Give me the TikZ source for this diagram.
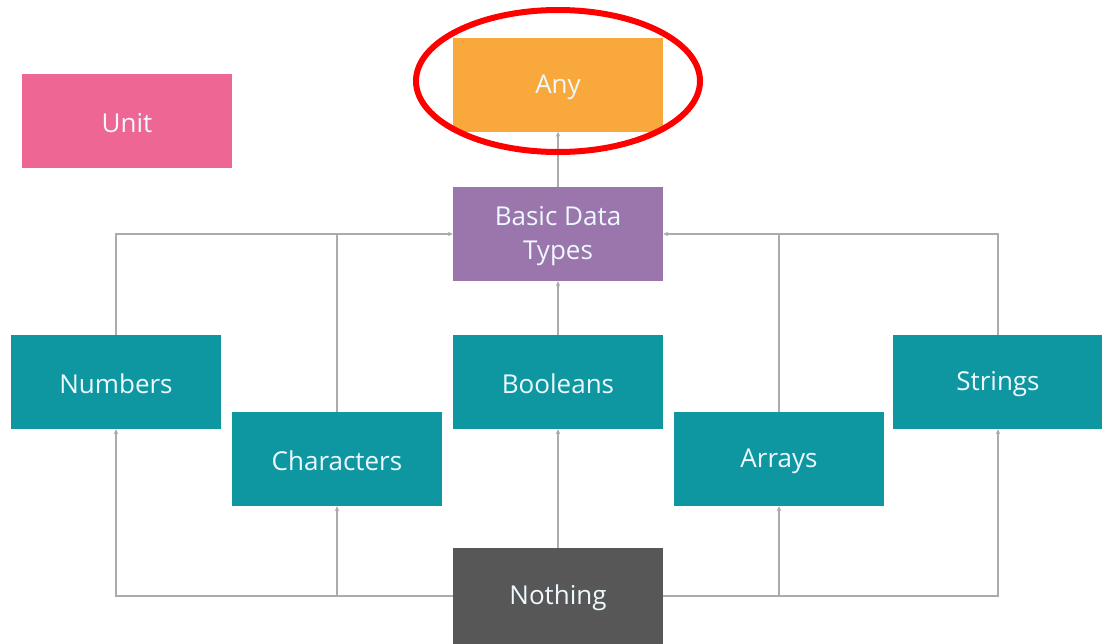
\documentclass[tikz,border=0pt]{standalone}
\usepackage{fontspec}
\setmainfont{Open Sans}
\usetikzlibrary{arrows.meta}
\definecolor{tealbox}{HTML}{0E97A1}
\definecolor{pinkbox}{HTML}{EE6694}
\definecolor{orangebox}{HTML}{F9A93C}
\definecolor{purplebox}{HTML}{9B76AC}
\definecolor{darkbox}{HTML}{575757}
\definecolor{linkgray}{HTML}{ABABAB}
% fixed-size strut so every label sits at the same baseline
\newcommand{\labelstrut}{\rule[-2pt]{0pt}{26pt}}
\newcommand{\boxlabel}[1]{\labelstrut#1}
\begin{document}
\begin{tikzpicture}[x=1pt,y=-1pt,
  box/.style={rectangle, minimum width=210pt, minimum height=94pt, inner sep=0pt,
    text=white!93!cyan, font=\fontsize{26}{34}\selectfont, align=center},
  link/.style={draw=linkgray, line width=1.4pt},
  tip/.style={link, -{Stealth[length=5pt,width=4.5pt]}}]
  \useasboundingbox (0,0) rectangle (1102,643);

  % type boxes
  \node[box, fill=pinkbox]   (unit)    at (127,121)   {\boxlabel{Unit}};
  \node[box, fill=orangebox] (any)     at (558,84.5)  {\boxlabel{Any}};
  \node[box, fill=purplebox] (basic)   at (558,234)   {\labelstrut Basic Data\\Types\labelstrut};
  \node[box, fill=tealbox]   (numbers) at (116,382)   {\boxlabel{Numbers}};
  \node[box, fill=tealbox]   (chars)   at (337,459)   {\boxlabel{Characters}};
  \node[box, fill=tealbox]   (bools)   at (558,382)   {\boxlabel{Booleans}};
  \node[box, fill=tealbox]   (arrays)  at (779,459)   {\boxlabel{Arrays}};
  \node[box, fill=tealbox]   (strings) at (998,382)   {\boxlabel{Strings}};
  \node[box, fill=darkbox, minimum height=96pt] (nothing) at (558,596) {\boxlabel{Nothing}};

  % upward links into Basic Data Types and Any
  \draw[tip] (basic.north) -- (any.south);
  \draw[tip] (bools.north) -- (basic.south);
  \draw[tip] (numbers.north) |- (basic.west);
  \draw[link] (chars.north) -- (chars.north |- basic.west);
  \draw[tip] (strings.north) |- (basic.east);
  \draw[link] (arrays.north) -- (arrays.north |- basic.east);

  % links from Nothing up to every basic type
  \draw[tip] (nothing.north) -- (bools.south);
  \draw[tip] (nothing.west) -| (numbers.south);
  \draw[tip] (nothing.west -| chars.south) -- (chars.south);
  \draw[tip] (nothing.east) -| (strings.south);
  \draw[tip] (nothing.east -| arrays.south) -- (arrays.south);

  % highlight ring round Any
  \draw[red, line width=6pt] (any.center) ++(0,-3.5) ellipse [x radius=142, y radius=71];
\end{tikzpicture}
\end{document}
